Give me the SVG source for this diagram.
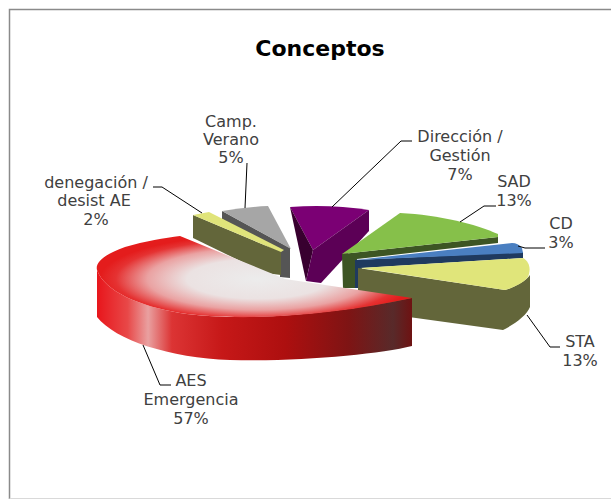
<svg xmlns="http://www.w3.org/2000/svg" width="611" height="501" viewBox="0 0 611 501">
<style>
.lbl{font-family:"DejaVu Sans","Liberation Sans",sans-serif;font-size:16px;fill:#404040;text-anchor:middle}
.ttl{font-family:"DejaVu Sans","Liberation Sans",sans-serif;font-size:22px;font-weight:bold;fill:#000;text-anchor:middle}
.ld{fill:none;stroke:#000;stroke-width:1}
</style>
<defs>
<linearGradient id="redSide" gradientUnits="userSpaceOnUse" x1="96" y1="0" x2="412" y2="0">
<stop offset="0" stop-color="#e8141a"/>
<stop offset="0.1" stop-color="#e84848"/>
<stop offset="0.165" stop-color="#e9a0a0"/>
<stop offset="0.24" stop-color="#dc3434"/>
<stop offset="0.4" stop-color="#c61818"/>
<stop offset="0.6" stop-color="#ad0f0f"/>
<stop offset="0.8" stop-color="#7e1414"/>
<stop offset="0.94" stop-color="#582a2a"/>
<stop offset="1" stop-color="#6e1212"/>
</linearGradient>
<radialGradient id="redTop" gradientUnits="userSpaceOnUse" cx="0" cy="0" r="1" gradientTransform="translate(258,279) scale(158,44)">
<stop offset="0" stop-color="#ececec"/>
<stop offset="0.45" stop-color="#ebe2e2"/>
<stop offset="0.7" stop-color="#eaa2a2"/>
<stop offset="0.9" stop-color="#e53232"/>
<stop offset="1" stop-color="#e41c1c"/>
</radialGradient>
</defs>
<rect x="0" y="0" width="611" height="501" fill="#fff"/>
<path d="M9.5,499 L9.5,9.5 L611,9.5" fill="none" stroke="#8a8a8a" stroke-width="1.5"/>
<line x1="9.5" y1="498.5" x2="611" y2="498.5" stroke="#d9d9d9" stroke-width="1"/>
<text class="ttl" x="320" y="56">Conceptos</text>

<g id="camp-verano">
<path d="M222,211 L290,248 L290,278 L280,277 L280,254 L222,219 Z" fill="#555555"/>
<path d="M222,211 Q245,207 268,206 L291,249 Z" fill="#a6a6a6"/>
<text class="lbl" x="231" y="127">Camp.</text>
<text class="lbl" x="231" y="145">Verano</text>
<text class="lbl" x="231" y="163">5%</text>
</g>

<g id="denegacion">
<path d="M193,215 L281,252 L281,275 L265,273 L193,238 Z" fill="#63663a"/>
<path d="M193,215 L209,212 L284,250 L281,252 Z" fill="#e0e47a"/>
<text class="lbl" x="96" y="188">denegación /</text>
<text class="lbl" x="94" y="206">desist AE</text>
<text class="lbl" x="96" y="225">2%</text>
</g>

<g id="direccion">
<path d="M290,207 Q330,204 369,210 L313,250 Z" fill="#7b0074"/>
<path d="M290,207 L313,250 L306,281 Z" fill="#38002f"/>
<path d="M369,210 L369,231 L321,283 Q313,282 306,281 L313,250 Z" fill="#5c0056"/>
<text class="lbl" x="460" y="142">Dirección /</text>
<text class="lbl" x="460" y="161">Gestión</text>
<text class="lbl" x="460" y="180">7%</text>
</g>

<g id="sad">
<path d="M342,254 L498,237 L498,243 L357,259 L357,288 L343,288 Z" fill="#3d5524"/>
<path d="M342,254 L400,213 C440,215 475,224 498,234 L498,237 Z" fill="#86c04a"/>
<text class="lbl" x="514" y="187">SAD</text>
<text class="lbl" x="514" y="206">13%</text>
</g>

<g id="cd">
<path d="M355,260 L523,252 L523,258 L362,268 L362,288 L355,288 Z" fill="#1f3a5f"/>
<path d="M355,260 L512,243 Q518,243 522,248 L523,253 Z" fill="#4a7fc1"/>
<text class="lbl" x="561" y="229">CD</text>
<text class="lbl" x="561" y="248">3%</text>
</g>

<g id="sta">
<path d="M358,268 L505,290 C515,287 526,281 530,275 L530,307 C527,315 515,324 503,330 L358,310 Z" fill="#63663a"/>
<path d="M360,268 L523,258 C530,262 531,270 528,277 C522,284 512,288 505,290 Z" fill="#e0e57a"/>
<text class="lbl" x="580" y="347">STA</text>
<text class="lbl" x="580" y="366">13%</text>
</g>

<g id="aes">
<path d="M97,270 C105,292 140,306 180,313 C240,322 330,315 412,298 L412,346 C380,354 300,362 230,360 C170,358 115,340 97,317 Z" fill="url(#redSide)"/>
<path d="M180,236 L285,279 L412,298 C330,316 240,322 180,313 C140,306 105,292 97,270 C95,262 105,254 125,247 C145,241 165,238 180,236 Z" fill="url(#redTop)"/>
<text class="lbl" x="191" y="386">AES</text>
<text class="lbl" x="191" y="405">Emergencia</text>
<text class="lbl" x="191" y="424">57%</text>
</g>

<g id="connectors">
<path class="ld" d="M153,187 L162,187 L202,213"/>
<path class="ld" d="M247,163 L245,208"/>
<path class="ld" d="M412,141 L401,141 L332,207"/>
<path class="ld" d="M496,206 L484,206 L460,222"/>
<path class="ld" d="M518,246 L525,248 L545,248"/>
<path class="ld" d="M527,315 L550,347 L560,347"/>
<path class="ld" d="M143,345 L160,385 L171,385"/>
</g>
</svg>
